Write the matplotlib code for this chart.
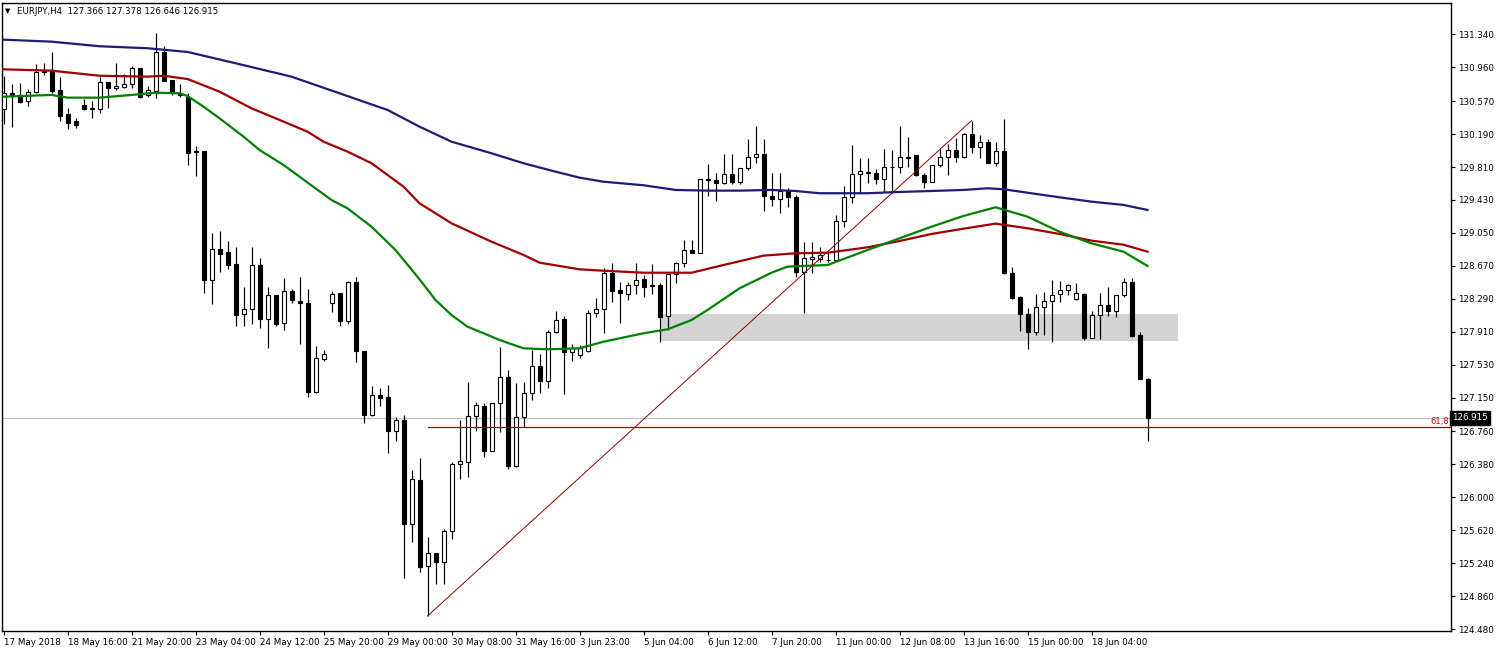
import numpy as np
import matplotlib.pyplot as plt
from matplotlib.transforms import blended_transform_factory

symbol = "EURJPY,H4"

# H4 candles, oldest first
opens = [
    130.477, 130.661, 130.642, 130.569, 130.680, 130.918, 130.922, 130.699, 130.423, 130.342,
    130.526, 130.488, 130.477, 130.788, 130.719, 130.738, 130.765, 130.950, 130.638, 130.688,
    131.135, 130.811, 130.653, 130.622, 129.992, 129.996, 128.511, 128.865, 128.827, 128.688,
    128.111, 128.169, 128.677, 128.054, 128.331, 128.007, 128.377, 128.261, 128.238, 127.218,
    127.599, 128.245, 128.354, 128.038, 128.481, 127.684, 126.953, 127.177, 127.154, 126.768,
    126.888, 125.688, 126.196, 125.207, 125.354, 125.250, 125.607, 126.381, 126.411, 126.934,
    127.053, 126.537, 127.084, 127.384, 126.364, 126.923, 127.200, 127.511, 127.345, 127.904,
    128.054, 127.680, 127.642, 127.688, 128.123, 128.169, 128.584, 128.388, 128.342, 128.449,
    128.515, 128.453, 128.449, 128.095, 128.576, 128.700, 128.850, 128.822, 129.669, 129.661,
    129.623, 129.730, 129.641, 129.796, 129.923, 129.958, 129.476, 129.438, 129.534, 129.461,
    128.603, 128.746, 128.753, 128.741, 128.738, 129.184, 129.461, 129.727, 129.757, 129.742,
    129.676, 129.814, 129.814, 129.930, 129.950, 129.715, 129.641, 129.831, 129.930, 130.004,
    129.923, 130.192, 130.038, 130.103, 129.861, 129.999, 128.584, 128.315, 128.111, 127.911,
    128.199, 128.268, 128.342, 128.388, 128.284, 128.346, 127.841, 128.100, 128.215, 128.153,
    128.331, 128.481, 127.869, 127.366]
highs = [
    130.861, 130.769, 130.777, 130.708, 130.999, 131.014, 131.141, 130.853, 130.495, 130.376,
    130.599, 130.573, 130.853, 130.792, 131.014, 130.881, 130.976, 130.954, 130.746, 131.357,
    131.207, 130.815, 130.769, 130.661, 130.053, 130.000, 129.046, 129.072, 128.957, 128.884,
    128.426, 128.884, 128.761, 128.426, 128.336, 128.530, 128.400, 128.542, 128.400, 127.746,
    127.696, 128.380, 128.358, 128.492, 128.542, 127.688, 127.284, 127.257, 127.292, 126.930,
    126.949, 126.315, 126.450, 125.538, 125.358, 125.637, 126.404, 126.892, 127.330, 127.099,
    127.084, 127.090, 127.734, 127.469, 127.315, 127.334, 127.699, 127.653, 127.930, 128.150,
    128.092, 127.765, 127.757, 128.161, 128.296, 128.642, 128.700, 128.481, 128.481, 128.700,
    128.565, 128.688, 128.469, 128.580, 128.718, 128.969, 128.969, 129.672, 129.842, 129.738,
    129.958, 129.958, 129.796, 130.134, 130.284, 130.134, 129.738, 129.738, 129.565, 129.488,
    128.949, 128.949, 128.884, 128.834, 129.254, 129.592, 130.065, 129.911, 129.911, 129.785,
    130.019, 130.007, 130.288, 130.154, 129.954, 129.738, 129.834, 130.015, 130.076, 130.149,
    130.203, 130.345, 130.180, 130.131, 130.096, 130.361, 128.661, 128.319, 128.181, 128.346,
    128.365, 128.507, 128.499, 128.461, 128.469, 128.361, 128.153, 128.354, 128.423, 128.334,
    128.527, 128.527, 127.911, 127.378]
lows = [
    130.304, 130.276, 130.546, 130.518, 130.661, 130.873, 130.661, 130.345, 130.246, 130.264,
    130.469, 130.380, 130.438, 130.488, 130.699, 130.726, 130.726, 130.611, 130.615, 130.604,
    130.803, 130.642, 130.622, 129.834, 129.711, 128.361, 128.234, 128.603, 128.634, 127.980,
    127.980, 128.003, 127.957, 127.726, 127.980, 127.934, 128.242, 127.772, 127.154, 127.203,
    127.576, 128.138, 127.980, 127.996, 127.564, 126.860, 126.938, 127.057, 126.514, 126.653,
    125.065, 125.487, 125.141, 124.630, 124.999, 124.999, 125.515, 126.207, 126.237, 126.768,
    126.468, 126.534, 126.757, 126.330, 126.353, 126.814, 127.122, 127.200, 127.257, 127.896,
    127.188, 127.576, 127.607, 127.676, 128.077, 127.899, 128.257, 128.007, 128.273, 128.342,
    128.307, 128.342, 127.795, 127.930, 128.476, 128.661, 128.815, 128.819, 129.476, 129.422,
    129.615, 129.615, 129.615, 129.776, 129.861, 129.307, 129.364, 129.284, 129.353, 128.545,
    128.123, 128.584, 128.718, 128.718, 128.730, 129.122, 129.399, 129.514, 129.623, 129.615,
    129.523, 129.514, 129.745, 129.814, 129.710, 129.572, 129.638, 129.814, 129.719, 129.865,
    129.915, 129.969, 129.911, 129.858, 129.826, 128.580, 128.288, 127.922, 127.707, 127.873,
    127.873, 127.795, 128.257, 128.334, 128.276, 127.815, 127.834, 127.830, 128.088, 128.077,
    128.315, 127.853, 127.361, 126.646]
closes = [
    130.661, 130.634, 130.565, 130.673, 130.911, 130.912, 130.691, 130.403, 130.322, 130.299,
    130.480, 130.477, 130.788, 130.719, 130.742, 130.765, 130.950, 130.622, 130.696, 131.135,
    130.807, 130.673, 130.638, 129.976, 129.984, 128.511, 128.861, 128.811, 128.684, 128.107,
    128.169, 128.677, 128.054, 128.331, 128.003, 128.377, 128.273, 128.238, 127.218, 127.604,
    127.650, 128.342, 128.038, 128.481, 127.684, 126.953, 127.177, 127.146, 126.768, 126.888,
    125.688, 126.207, 125.199, 125.354, 125.250, 125.607, 126.387, 126.415, 126.938, 127.061,
    126.537, 127.084, 127.384, 126.364, 126.926, 127.200, 127.511, 127.345, 127.904, 128.049,
    127.680, 127.726, 127.719, 128.123, 128.169, 128.584, 128.384, 128.354, 128.449, 128.504,
    128.430, 128.434, 128.084, 128.576, 128.700, 128.850, 128.822, 129.669, 129.663, 129.623,
    129.730, 129.641, 129.796, 129.923, 129.958, 129.480, 129.436, 129.534, 129.461, 128.603,
    128.757, 128.776, 128.792, 128.738, 129.184, 129.461, 129.727, 129.765, 129.742, 129.676,
    129.814, 129.811, 129.923, 129.918, 129.715, 129.641, 129.831, 129.930, 130.004, 129.923,
    130.192, 130.038, 130.103, 129.861, 129.999, 128.584, 128.303, 128.111, 127.911, 128.199,
    128.268, 128.331, 128.388, 128.446, 128.361, 127.834, 128.100, 128.215, 128.153, 128.331,
    128.481, 127.861, 127.368, 126.915]

# moving averages, sampled every few bars (bar index, price)
ma_slow_idx = [0, 6, 12, 18, 23, 29, 36, 42, 48, 52, 56, 61, 65, 69, 72, 75, 80, 84, 88, 92,
               96, 99, 102, 108, 112, 116, 120, 123, 125, 128, 132, 136, 140, 143]
ma_slow = [131.280, 131.257, 131.204, 131.181, 131.138, 131.008, 130.853, 130.661, 130.469, 130.276,
           130.103, 129.969, 129.854, 129.757, 129.688, 129.641, 129.600, 129.546, 129.538, 129.538,
           129.546, 129.534, 129.508, 129.508, 129.523, 129.534, 129.546, 129.565, 129.554, 129.514,
           129.461, 129.411, 129.373, 129.315]
ma_mid_idx = [0, 6, 12, 18, 20, 23, 27, 31, 36, 38, 40, 43, 46, 50, 52, 56, 61, 65, 67, 72,
              75, 80, 84, 86, 90, 95, 99, 103, 108, 112, 116, 120, 124, 128, 132, 136, 140, 143]
ma_mid = [130.938, 130.922, 130.864, 130.853, 130.864, 130.826, 130.680, 130.488, 130.296, 130.218,
          130.103, 129.988, 129.854, 129.584, 129.392, 129.161, 128.949, 128.796, 128.707, 128.630,
          128.614, 128.591, 128.591, 128.591, 128.680, 128.788, 128.815, 128.822, 128.884, 128.957,
          129.038, 129.099, 129.157, 129.104, 129.038, 128.961, 128.914, 128.834]
ma_fast_idx = [0, 6, 8, 12, 16, 19, 22, 23, 25, 27, 30, 32, 35, 37, 41, 43, 46, 49, 52, 54,
               56, 58, 60, 62, 65, 68, 72, 75, 80, 83, 86, 88, 92, 96, 98, 103, 108, 112, 116, 120,
               124, 128, 132, 136, 140, 143]
ma_fast = [130.622, 130.642, 130.611, 130.611, 130.642, 130.668, 130.661, 130.630, 130.507, 130.373,
           130.161, 130.007, 129.834, 129.699, 129.430, 129.334, 129.122, 128.853, 128.515, 128.276,
           128.103, 127.968, 127.892, 127.815, 127.719, 127.707, 127.719, 127.795, 127.892, 127.938,
           128.045, 128.161, 128.411, 128.591, 128.661, 128.680, 128.853, 128.988, 129.122, 129.246,
           129.346, 129.238, 129.064, 128.930, 128.834, 128.669]

time_labels = ["17 May 2018", "18 May 16:00", "21 May 20:00", "23 May 04:00", "24 May 12:00",
               "25 May 20:00", "29 May 00:00", "30 May 08:00", "31 May 16:00", "3 Jun 23:00",
               "5 Jun 04:00", "6 Jun 12:00", "7 Jun 20:00", "11 Jun 00:00", "12 Jun 08:00",
               "13 Jun 16:00", "15 Jun 00:00", "18 Jun 04:00"]
price_ticks = [124.480, 124.860, 125.240, 125.620, 126.000, 126.380, 126.760, 127.150, 127.530,
               127.910, 128.290, 128.670, 129.050, 129.430, 129.810, 130.190, 130.570, 130.960, 131.340]

# support zone (bars / prices) and fibo swing
zone_bars = (82, 146.8)
zone_prices = (127.803, 128.115)
swing_low_bar, swing_high_bar = 53, 121

W, H = 1497, 652
plt.rcParams['font.family'] = ['DejaVu Sans']
fig = plt.figure(figsize=(W / 100, H / 100), dpi=100)
ax = fig.add_axes([2 / W, (H - 631) / H, (1451 - 2) / W, (631 - 3) / H])

o, h, l, c = map(np.array, (opens, highs, lows, closes))
x = np.arange(len(o))
up = c >= o

ax.add_patch(plt.Rectangle((zone_bars[0], zone_prices[0]), zone_bars[1] - zone_bars[0],
                           zone_prices[1] - zone_prices[0], facecolor='#d3d3d3',
                           edgecolor='none', zorder=1))
ax.axhline(c[-1], color='#c0c0c0', lw=0.9, zorder=1)

ax.vlines(x, l, h, color='black', lw=0.85, zorder=3)
body_lo = np.minimum(o, c)
body_h = np.maximum(np.abs(c - o), 0.004)
ax.bar(x[up], body_h[up], bottom=body_lo[up], width=0.5, facecolor='white',
       edgecolor='black', lw=0.8, zorder=4)
ax.bar(x[~up], body_h[~up], bottom=body_lo[~up], width=0.5, facecolor='black',
       edgecolor='black', lw=0.8, zorder=4)

ax.plot(ma_slow_idx, ma_slow, color='#1c1c78', lw=1.6, zorder=5)
ax.plot(ma_mid_idx, ma_mid, color='#a00000', lw=1.6, zorder=5)
ax.plot(ma_fast_idx, ma_fast, color='#008000', lw=1.6, zorder=5)

# trendline and 61.8 retracement
lo_p, hi_p = l[swing_low_bar], h[swing_high_bar]
ax.plot([swing_low_bar, swing_high_bar], [lo_p, hi_p], color='#8b0000', lw=0.7, zorder=6)
fib = hi_p - 0.618 * (hi_p - lo_p)
xmax = (1451 - 3.5) / 8
ax.plot([swing_low_bar, xmax], [fib, fib], color='#b00000', lw=0.9, zorder=6)
ax.text(xmax - 0.3, fib + 0.01, "61,8", color='#e00000', fontsize=6, ha='right', va='bottom')

ax.set_xlim(-0.19, xmax)
ax.set_ylim(124.457, 131.703)

ax.set_xticks(np.arange(len(time_labels)) * 8)
ax.set_xticklabels(time_labels, ha='left')
ax.yaxis.tick_right()
ax.set_yticks(price_ticks)
ax.set_yticklabels([f"{p:.3f}" for p in price_ticks])
ax.tick_params(axis='both', length=3, width=0.8, pad=2, labelsize=6.3, colors='black')
for s in ax.spines.values():
    s.set_linewidth(1)

tr = blended_transform_factory(ax.transAxes, ax.transData)
ax.text(1.001, c[-1], f"{c[-1]:.3f}", transform=tr, ha='left', va='center', color='white',
        fontsize=6.3, bbox=dict(facecolor='black', edgecolor='black', pad=1.5), zorder=10)

fig.text(5 / W, 1 - 11 / H, "\u25bc", fontsize=5, va='center', ha='left')
fig.text(17 / W, 1 - 11 / H, f"{symbol}  {o[-1]:.3f} {h[-1]:.3f} {l[-1]:.3f} {c[-1]:.3f}",
         fontsize=6.2, va='center', ha='left')

fig.savefig('out.png', dpi=100)
